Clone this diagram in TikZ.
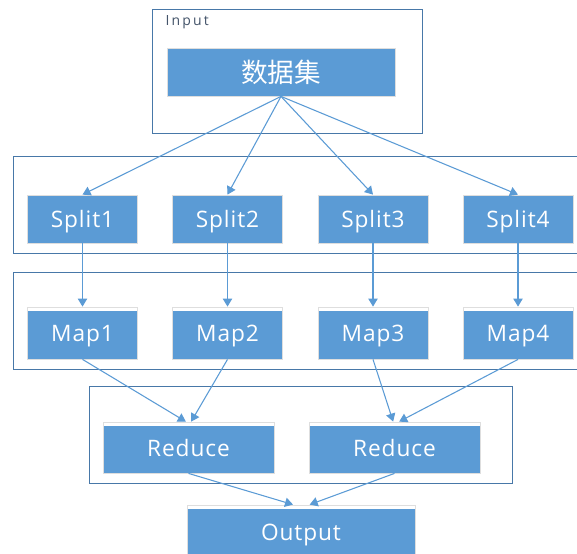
\documentclass[tikz,border=0pt]{standalone}
\usepackage{fontspec}
\setmainfont{Open Sans}
\newfontfamily\cjk{Noto Sans CJK SC}
\usepackage{tikz}
\usetikzlibrary{arrows.meta}
\definecolor{boxBlue}{RGB}{91, 155, 213}
\definecolor{panelBlue}{RGB}{72, 120, 168}
\definecolor{tagBlue}{RGB}{68, 84, 106}

\begin{document}
\begin{tikzpicture}[x=0.75pt, y=-0.75pt,
    every node/.style={font=\fontsize{17}{20}\selectfont\addfontfeature{LetterSpace=4}},
    panel/.style={rectangle, draw=panelBlue, fill=white, line width=0.7pt, minimum width=#1, minimum height=72.75pt, inner sep=0pt},
    block/.style={rectangle, fill=boxBlue, draw=black!13, line width=0.6pt, text=white, minimum width=82.5pt, minimum height=36pt, inner sep=0pt, text depth=0pt},
    bandblock/.style={block, fill=white, path picture={\fill[boxBlue] ([yshift=-3pt]path picture bounding box.north west) rectangle (path picture bounding box.south east);}},
    flow/.style={-{Triangle[width=7pt, length=6pt]}, draw=boxBlue, line width=0.8pt},
    tag/.style={font=\fontsize{10.5}{12}\selectfont\addfontfeature{LetterSpace=15}, text=tagBlue},
]
\useasboundingbox (0,0) rectangle (577,553);
\clip (0,0) rectangle (577,553);
% INPUT
\node[panel=202.5pt, minimum height=93pt] (inbox) at (287,71) {};
\node[tag, anchor=west] (intag) at (161,22) {Input};
\node[block, minimum width=171pt, text depth=] (data) at (281,72) {\cjk\fontsize{20}{24}\selectfont 数据集};
% SPLIT
\node[panel=436.5pt] (splitrow) at (304,204.5) {};
\node[block] (split1) at (82.5,219) {Split1};
\node[block] (split2) at (227.5,219) {Split2};
\node[block] (split3) at (373,219) {Split3};
\node[block] (split4) at (518,219) {Split4};
\draw[flow] (data.south) -- (split1.north);
\draw[flow] (data.south) -- (split2.north);
\draw[flow] (data.south) -- (split3.north);
\draw[flow] (data.south) -- (split4.north);
% MAP
\node[panel=436.5pt] (maprow) at (304,320.5) {};
\node[bandblock, minimum height=39pt] (map1) at (82.5,333) {Map1};
\node[bandblock, minimum height=39pt] (map2) at (227.5,333) {Map2};
\node[bandblock, minimum height=39pt] (map3) at (373,333) {Map3};
\node[bandblock, minimum height=39pt] (map4) at (518,333) {Map4};
\draw[flow] (split1) -- (map1);
\draw[flow] (split2) -- (map2);
\draw[flow] (split3) -- (map3);
\draw[flow] (split4) -- (map4);
% REDUCE
\node[panel=317.25pt] (reducerow) at (300.5,434.5) {};
\node[bandblock, minimum width=128.25pt, minimum height=38.25pt] (reduce1) at (188.5,447.5) {Reduce};
\node[bandblock, minimum width=128.25pt, minimum height=38.25pt] (reduce2) at (394.5,447.5) {Reduce};
\draw[flow] (map1.south) -- ([xshift=-2pt]reduce1.north);
\draw[flow] (map2.south) -- ([xshift=2pt]reduce1.north);
\draw[flow] (map3.south) -- ([xshift=-1pt]reduce2.north);
\draw[flow] (map4.south) -- ([xshift=3.5pt]reduce2.north);
% OUTPUT
\node[bandblock, minimum width=171pt, minimum height=41.25pt] (output) at (301,532.5) {Output};
\draw[flow] (reduce1.south) -- ([xshift=-6pt]output.north);
\draw[flow] (reduce2.south) -- ([xshift=6.5pt]output.north);
\end{tikzpicture}
\end{document}
